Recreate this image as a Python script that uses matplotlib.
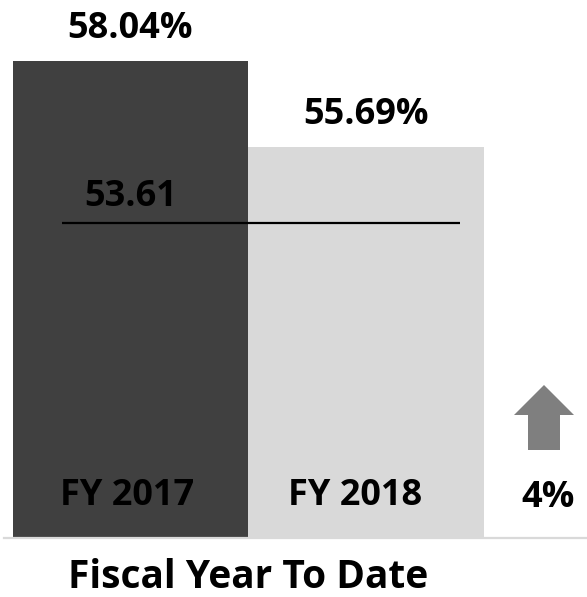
import matplotlib
matplotlib.use("Agg")
import matplotlib.pyplot as plt
from matplotlib.patches import Polygon

# data
years = ["FY 2017", "FY 2018"]
rates = [58.04, 55.69]
target = 53.61
change_label = "4%"
title = "Fiscal Year To Date"
bar_colors = ["#404040", "#d9d9d9"]

plt.rcParams["font.family"] = ["Open Sans", "DejaVu Sans"]
plt.rcParams["font.weight"] = "bold"

W, H = 587, 597
fig = plt.figure(figsize=(W / 100, H / 100), dpi=100)


def fx(px):
    return px / W


def fy(py):
    return 1 - py / H


# axes spans full width, bottom at the baseline (pixel 538.5)
ax = fig.add_axes([0, fy(538.5), 1, 538.5 / H])
ax.set_xlim(-0.554, 1.939)
ax.set_ylim(45, 59.71)
ax.axis("off")

xs = range(len(years))
ax.bar(xs, rates, width=1.0, color=bar_colors, bottom=0, zorder=2)

# baseline
ax.plot([-0.537, 1.939], [45.02, 45.02], color="#d9d9d9", lw=1.6,
        clip_on=False, zorder=3)

# target line
ax.hlines(target, -0.291, 1.399, color="black", lw=1.6, zorder=4)
ax.annotate(f"{target:.2f}", (0, target), xytext=(0, 12.5),
            textcoords="offset points", ha="center", va="baseline",
            fontsize=26, fontweight="bold", color="black", zorder=5)

for x, v in zip(xs, rates):
    ax.annotate(f"{v:.2f}%", (x, v), xytext=(0, 17),
                textcoords="offset points", ha="center", va="baseline",
                fontsize=26, fontweight="bold", color="black")

# year labels sit a little left of the bar centres
for x, lab, dx in zip(xs, years, [-2.5, -8]):
    ax.annotate(lab, (x, 45), xytext=(dx, 24),
                textcoords="offset points", ha="center", va="baseline",
                fontsize=26, fontweight="bold", color="black")

# up arrow
arrow = [(544, 385), (574, 415), (560, 415), (560, 450),
         (528, 450), (528, 415), (514, 415)]
fig.patches.append(Polygon([(fx(a), fy(b)) for a, b in arrow],
                           closed=True, transform=fig.transFigure,
                           facecolor="#7f7f7f", edgecolor="none"))
fig.text(fx(548), fy(507), change_label, ha="center", va="baseline",
         fontsize=26, fontweight="bold", color="black")

fig.text(fx(248), fy(588), title, ha="center", va="baseline",
         fontsize=28, fontweight="bold", color="black")

fig.savefig("out.png", dpi=100, facecolor="white")
